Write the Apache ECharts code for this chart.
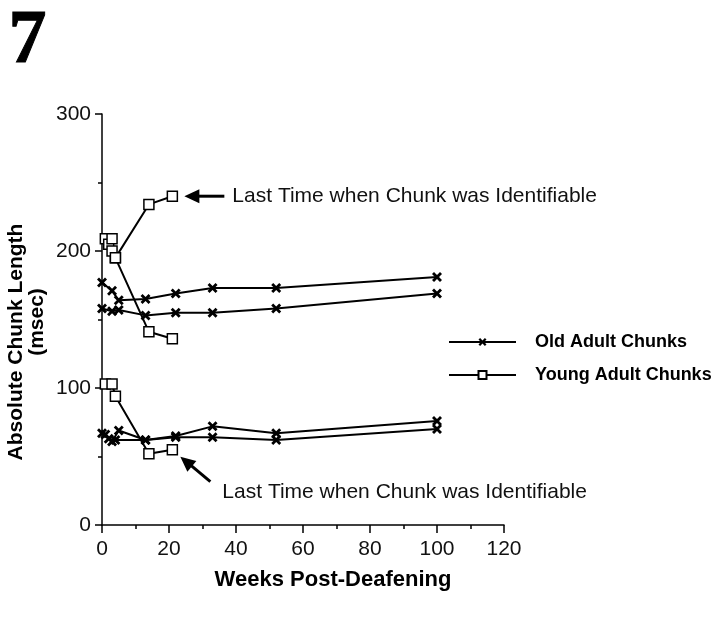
<!DOCTYPE html>
<html>
<head>
<meta charset="utf-8">
<script src="https://cdn.jsdelivr.net/npm/echarts@6/dist/echarts.min.js"></script>
<style>html,body{margin:0;padding:0;background:#fff;}#c{width:720px;height:619px;}</style>
</head>
<body>
<div id="c"></div>
<script>
// Data: [weeks, msec]
const oldUpperA = [[0,177],[3,171],[5,164],[13,165],[22,169],[33,173],[52,173],[100,181]];
const oldUpperB = [[0,158],[3,156],[5,157],[13,153],[22,155],[33,155],[52,158],[100,169]];
const oldLowerA = [[0,67],[3,61],[5,69],[13,62],[22,65],[33,72],[52,67],[100,76]];
const oldLowerB = [[1,66],[2,63],[4,62],[13,62],[22,64],[33,64],[52,62],[100,70]];
const youngUpperA = [[1,209],[2,205],[4,195],[14,234],[21,240]];
const youngUpperB = [[3,209],[3,200],[4,195],[14,141],[21,136]];
const youngLower = [[1,103],[3,103],[4,94],[14,52],[21,55]];
const xTicks = [0,20,40,60,80,100,120];
const yTicks = [0,100,200,300];
const legendNames = ['Old Adult Chunks','Young Adult Chunks'];
const annotationText = 'Last Time when Chunk was Identifiable';

const crossPath = 'path://M0,2L2,0L5,3L8,0L10,2L7,5L10,8L8,10L5,7L2,10L0,8L3,5Z';
const sansFont = '"Liberation Sans", Arial, sans-serif';

function oldSeries(data){
  return {type:'line', name:legendNames[0], data:data, symbol:crossPath, symbolSize:10,
    lineStyle:{color:'#000', width:2}, itemStyle:{color:'#000'}, z:3};
}
function youngSeries(data){
  return {type:'line', name:legendNames[1], data:data, symbol:'rect', symbolSize:10,
    lineStyle:{color:'#000', width:2}, itemStyle:{color:'#fff', borderColor:'#000', borderWidth:1.5}, z:4};
}

const chart = echarts.init(document.getElementById('c'), null, {renderer:'canvas'});
chart.setOption({
  animation:false,
  backgroundColor:'#fff',
  grid:{left:102, right:216, top:114, bottom:94},
  legend:{data:legendNames, orient:'vertical', left:443, top:328, itemWidth:67, itemHeight:10, itemGap:15,
    textStyle:{fontFamily:sansFont, fontWeight:'bold', fontSize:18, color:'#000', padding:[0,0,0,14]}},
  xAxis:{type:'value', min:0, max:120, interval:20,
    axisLine:{show:true, lineStyle:{color:'#000', width:1.5}},
    axisTick:{show:true, length:8, lineStyle:{color:'#000', width:1.5}},
    minorTick:{show:true, splitNumber:2, length:4, lineStyle:{color:'#000', width:1.5}},
    splitLine:{show:false},
    axisLabel:{fontFamily:sansFont, fontSize:21, color:'#111', margin:14,
      formatter:function(v){return xTicks.indexOf(v)>=0 ? String(v) : '';}}},
  yAxis:{type:'value', min:0, max:300, interval:100,
    axisLine:{show:true, lineStyle:{color:'#000', width:1.5}},
    axisTick:{show:true, length:7, lineStyle:{color:'#000', width:1.5}},
    minorTick:{show:true, splitNumber:2, length:4, lineStyle:{color:'#000', width:1.5}},
    splitLine:{show:false},
    axisLabel:{fontFamily:sansFont, fontSize:21, color:'#111', margin:11,
      formatter:function(v){return yTicks.indexOf(v)>=0 ? String(v) : '';}}},
  series:[
    oldSeries(oldUpperA), oldSeries(oldUpperB), oldSeries(oldLowerA), oldSeries(oldLowerB),
    youngSeries(youngUpperA), youngSeries(youngUpperB), youngSeries(youngLower)
  ]
});

function arrowGroup(tip, tail){
  const dx = tip[0]-tail[0], dy = tip[1]-tail[1];
  const len = Math.sqrt(dx*dx+dy*dy), ux = dx/len, uy = dy/len;
  const hl = 15, hw = 7;
  const bx = tip[0]-ux*hl, by = tip[1]-uy*hl;
  return [
    {type:'line', shape:{x1:tail[0], y1:tail[1], x2:bx+ux*2, y2:by+uy*2}, style:{stroke:'#000', lineWidth:3}},
    {type:'polygon', shape:{points:[[tip[0],tip[1]],[bx-uy*hw, by+ux*hw],[bx+uy*hw, by-ux*hw]]}, style:{fill:'#000'}}
  ];
}

const pTop = chart.convertToPixel({gridIndex:0}, youngUpperA[youngUpperA.length-1]);
const pBot = chart.convertToPixel({gridIndex:0}, youngLower[youngLower.length-1]);
const topTip = [pTop[0]+12, pTop[1]];
const topTail = [topTip[0]+40, topTip[1]];
const botTip = [pBot[0]+8, pBot[1]+7];
const botTail = [botTip[0]+30, botTip[1]+25];

const graphics = [
  {type:'text', left:8, top:4, style:{text:'7', font:'bold 76px "Liberation Serif", "Times New Roman", serif', fill:'#000', stroke:'#000', lineWidth:1}},
  {type:'text', x:16, y:342, rotation:Math.PI/2, style:{text:'Absolute Chunk Length', font:'bold 21px '+sansFont, fill:'#000', align:'center', verticalAlign:'middle'}},
  {type:'text', x:37, y:322, rotation:Math.PI/2, style:{text:'(msec)', font:'bold 21px '+sansFont, fill:'#000', align:'center', verticalAlign:'middle'}},
  {type:'text', x:333, y:580, style:{text:'Weeks Post-Deafening', font:'bold 22px '+sansFont, fill:'#000', align:'center', verticalAlign:'middle'}},
  {type:'text', x:topTail[0]+8, y:topTail[1], style:{text:annotationText, font:'21px '+sansFont, fill:'#111', align:'left', verticalAlign:'middle'}},
  {type:'text', x:botTip[0]+42, y:botTip[1]+36, style:{text:annotationText, font:'21px '+sansFont, fill:'#111', align:'left', verticalAlign:'middle'}}
].concat(arrowGroup(topTip, topTail)).concat(arrowGroup(botTip, botTail));

chart.setOption({graphic:{elements:graphics}});
</script>
</body>
</html>
